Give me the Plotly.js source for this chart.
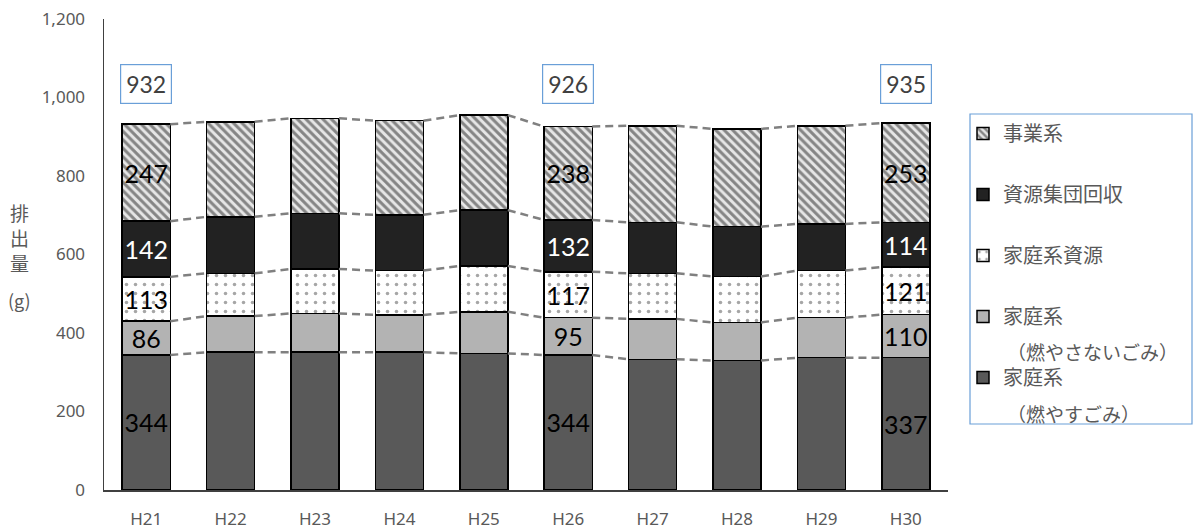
<!DOCTYPE html>
<html>
<head>
<meta charset="utf-8">
<script src="https://cdn.plot.ly/plotly-3.0.1.min.js"></script>
<style>html,body{margin:0;padding:0;background:#fff}#chart{width:1198px;height:529px}</style>
</head>
<body>
<div id="chart"></div>
<script>
// ---- data ----
const years = ['H21','H22','H23','H24','H25','H26','H27','H28','H29','H30'];
const burnable    = [344, 351, 351, 351, 348, 344, 333, 330, 337, 337]; // 家庭系（燃やすごみ）
const nonBurnable = [ 86,  92,  99,  95, 106,  95, 103,  97, 102, 110]; // 家庭系（燃やさないごみ）
const homeRes     = [113, 109, 113, 113, 117, 117, 116, 117, 120, 121]; // 家庭系資源
const groupColl   = [142, 144, 142, 142, 142, 132, 130, 127, 119, 114]; // 資源集団回収
const business    = [247, 242, 242, 240, 242, 238, 246, 249, 250, 253]; // 事業系
const labeledYears = ['H21','H26','H30'];
const seriesNames = ['家庭系', '家庭系', '家庭系資源', '資源集団回収', '事業系'];
const subNames = ['（燃やすごみ）', '（燃やさないごみ）'];
const yTitleChars = ['排', '出', '量'];
const yTitleUnit = '(g)';

// ---- build ----
const idx = years.map((_, i) => i);
const BW = 0.57;
const series = [burnable, nonBurnable, homeRes, groupColl, business];
const fills = [
  {color:'#595959', pattern:{shape:''}},
  {color:'#b3b3b3', pattern:{shape:''}},
  {color:'#ffffff', pattern:{shape:'.', fgcolor:'#a6a6a6', bgcolor:'#ffffff', size:9, solidity:0.12}},
  {color:'#222222', pattern:{shape:''}},
  {color:'#8c8c8c', pattern:{shape:'\\', fgcolor:'#858585', bgcolor:'#e6e6e6', size:6, solidity:0.5}}
];
const textColors = ['#000000','#000000','#000000','#ffffff','#000000'];
const numFont = 'Lato, "Open Sans", sans-serif';
const tickFamily = '"Noto Sans", "Open Sans", sans-serif';
const jpFont = '"Noto Sans CJK JP", "Noto Sans", sans-serif';

const traces = [];
series.forEach((vals, s) => {
  traces.push({
    type:'bar', x: idx, y: vals, width: BW,
    name: seriesNames[s], legendgroup: 'g'+s, legendrank: series.length - s,
    marker:{color: fills[s].color, pattern: fills[s].pattern, line:{color:'#000000', width:1.5}},
    text: vals.map((v,i) => labeledYears.includes(years[i]) ? String(v) : ''),
    textposition:'inside', insidetextanchor:'middle', textangle:0, constraintext:'none',
    textfont:{family:numFont, size:25, color:textColors[s]},
    hoverinfo:'skip', cliponaxis:false
  });
});

// connector dashed lines between stacked tops
const cum = [];
let running = years.map(() => 0);
series.forEach(vals => { running = running.map((r,i) => r + vals[i]); cum.push(running.slice()); });
cum.forEach(level => {
  const xs = [], ys = [];
  for (let i = 0; i < years.length - 1; i++) {
    xs.push(i + BW/2, i + 1 - BW/2, null);
    ys.push(level[i], level[i+1], null);
  }
  traces.push({type:'scatter', mode:'lines', x: xs, y: ys, showlegend:false, hoverinfo:'skip',
    line:{color:'#808080', width:2.5, dash:'8px,5px'}});
});

const totals = cum[cum.length-1];
const annotations = [];
years.forEach((yr, i) => {
  if (labeledYears.includes(yr)) {
    annotations.push({x: i, y: 1035, xref:'x', yref:'y', text: String(totals[i]), showarrow:false,
      font:{family:numFont, size:23, color:'#404040'}, bordercolor:'#6a9fd8', borderwidth:1.2,
      borderpad:5, bgcolor:'#ffffff'});
  }
});
// y-axis title (stacked vertical characters)
const ytX = (19-104)/844;
yTitleChars.forEach((ch, k) => {
  annotations.push({xref:'paper', yref:'paper', x:ytX, xanchor:'center', y:(490-(212 + 25*k))/471, yanchor:'middle',
    text:ch, showarrow:false, font:{family:jpFont, size:19, color:'#595959'}});
});
annotations.push({xref:'paper', yref:'paper', x:ytX, xanchor:'center', y:(490-300)/471, yanchor:'middle',
  text:yTitleUnit, showarrow:false, font:{family:jpFont, size:18, color:'#595959'}});
// legend second lines
const legX = (1005-104)/844;
annotations.push({xref:'paper', yref:'paper', x:legX, y:(490-351)/471, xanchor:'left', yanchor:'middle',
  text:subNames[1], showarrow:false, font:{family:jpFont, size:19, color:'#595959'}});
annotations.push({xref:'paper', yref:'paper', x:legX, y:(490-413)/471, xanchor:'left', yanchor:'middle',
  text:subNames[0], showarrow:false, font:{family:jpFont, size:19, color:'#595959'}});

const layout = {
  width:1198, height:529,
  margin:{l:104, r:250, t:19, b:39},
  paper_bgcolor:'#ffffff', plot_bgcolor:'#ffffff',
  barmode:'stack',
  showlegend:true,
  legend:{x:(963-104)/844, y:(490-114)/471, xanchor:'left', yanchor:'top',
    traceorder:'grouped', tracegroupgap:32, bgcolor:'rgba(0,0,0,0)', borderwidth:0,
    font:{family:jpFont, size:20, color:'#595959'}, itemwidth:30},
  xaxis:{range:[-0.5, 9.5], tickmode:'array', tickvals: idx, ticktext: years, showgrid:false, zeroline:false,
    showline:true, linecolor:'#404040', linewidth:1.5, ticks:'', ticklabelstandoff:13,
    tickfont:{family:tickFamily, size:17, color:'#595959'}, fixedrange:true},
  yaxis:{range:[0,1200], dtick:200, tickformat:',d', showgrid:false, zeroline:false,
    showline:true, linecolor:'#404040', linewidth:1.5, ticks:'', ticklabelstandoff:14,
    tickfont:{family:tickFamily, size:17, color:'#595959'}, fixedrange:true},
  shapes:[{type:'rect', xref:'paper', yref:'paper', x0:(970-104)/844, x1:(1192-104)/844,
    y0:(490-424)/471, y1:(490-114)/471, line:{color:'#6a9fd8', width:1.2}}],
  annotations: annotations
};

Plotly.newPlot('chart', traces, layout, {staticPlot:true, displayModeBar:false});
</script>
</body>
</html>
